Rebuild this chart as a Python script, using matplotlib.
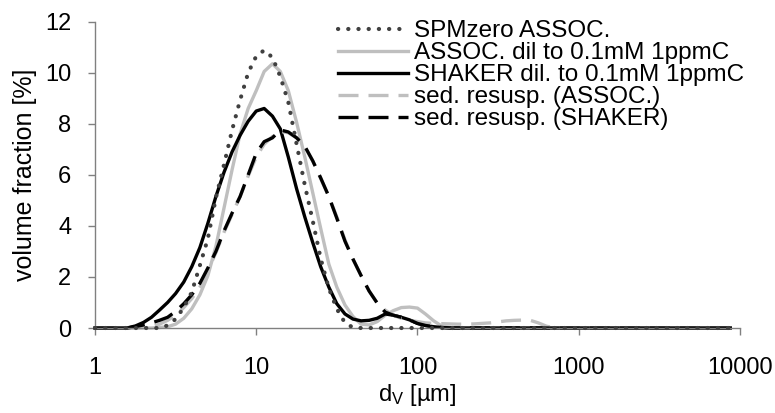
import matplotlib
matplotlib.use("Agg")
import matplotlib.pyplot as plt
from matplotlib import rcParams

rcParams["font.family"] = ["Liberation Sans", "DejaVu Sans"]
rcParams["mathtext.fontset"] = "custom"
rcParams["mathtext.rm"] = "Liberation Sans"
rcParams["mathtext.it"] = "Liberation Sans:italic"

# particle size d_V [µm] (log grid of the size classes)
size_um = [1.00, 1.12, 1.26, 1.41, 1.58, 1.78, 2.00, 2.24, 2.51, 2.82,
           3.16, 3.55, 3.98, 4.47, 5.01, 5.62, 6.31, 7.08, 7.94, 8.91,
           10.0, 11.2, 12.6, 14.1, 15.8, 17.8, 20.0, 22.4, 25.1, 28.2,
           31.6, 35.5, 39.8, 44.7, 50.1, 56.2, 63.1, 70.8, 79.4, 89.1,
           100, 112, 126, 141, 158, 178, 200, 224, 251, 282,
           316, 355, 398, 447, 501, 562, 631, 708, 794, 1000,
           2000, 3980, 8710]

# volume fraction [%]
spmzero_assoc = [0, 0, 0, 0, 0, 0, 0, 0, 0, 0.1,
                 0.35, 0.8, 1.4, 2.45, 3.5, 5.1, 6.4, 7.75, 8.93, 10.0,
                 10.65, 10.88, 10.6, 9.85, 8.85, 7.2, 5.6, 4.2, 2.72, 1.55,
                 0.75, 0.2, 0.02, 0, 0, 0, 0, 0, 0, 0,
                 0, 0, 0, 0, 0, 0, 0, 0, 0, 0,
                 0, 0, 0, 0, 0, 0, 0, 0, 0, 0,
                 0, 0, 0]

assoc_dil = [0, 0, 0, 0, 0, 0, 0, 0, 0.02, 0.05,
             0.15, 0.38, 0.75, 1.3, 2.05, 3.2, 4.7, 6.2, 7.6, 8.6,
             9.3, 10.05, 10.35, 10.05, 9.3, 8.05, 6.7, 5.3, 3.9, 2.5,
             1.6, 0.9, 0.45, 0.15, 0.12, 0.25, 0.5, 0.68, 0.8, 0.82,
             0.78, 0.55, 0.28, 0.08, 0.02, 0, 0, 0, 0, 0,
             0, 0, 0, 0, 0, 0, 0, 0, 0, 0,
             0, 0, 0]

shaker_dil = [0, 0, 0, 0, 0, 0.08, 0.22, 0.42, 0.7, 1.0,
              1.35, 1.8, 2.4, 3.15, 4.1, 5.15, 6.1, 6.9, 7.55, 8.1,
              8.5, 8.6, 8.3, 7.8, 6.7, 5.45, 4.35, 3.35, 2.4, 1.6,
              0.95, 0.55, 0.35, 0.28, 0.3, 0.38, 0.55, 0.5, 0.42, 0.32,
              0.18, 0.1, 0.05, 0.02, 0, 0, 0, 0, 0, 0,
              0, 0, 0, 0, 0, 0, 0, 0, 0, 0,
              0, 0, 0]

sed_assoc = [0, 0, 0, 0, 0, 0, 0.02, 0.06, 0.15, 0.3,
             0.5, 0.8, 1.15, 1.6, 2.25, 2.95, 3.75, 4.45, 5.15, 5.95,
             6.7, 7.2, 7.5, 7.7, 7.65, 7.45, 7.1, 6.55, 5.85, 5.15,
             4.35, 3.45, 2.7, 2.05, 1.45, 0.98, 0.7, 0.5, 0.38, 0.3,
             0.25, 0.2, 0.18, 0.17, 0.16, 0.15, 0.15, 0.16, 0.18, 0.2,
             0.24, 0.28, 0.3, 0.31, 0.3, 0.2, 0.07, 0.01, 0, 0,
             0, 0, 0]

sed_shaker = [0, 0, 0, 0, 0, 0.05, 0.12, 0.2, 0.3, 0.42,
              0.65, 0.95, 1.3, 1.75, 2.35, 3.0, 3.8, 4.5, 5.15, 6.0,
              6.85, 7.3, 7.45, 7.76, 7.68, 7.45, 7.12, 6.55, 5.88, 5.15,
              4.3, 3.4, 2.7, 2.05, 1.45, 0.98, 0.62, 0.5, 0.42, 0.32,
              0.18, 0.1, 0.05, 0.02, 0, 0, 0, 0, 0, 0,
              0, 0, 0, 0, 0, 0, 0, 0, 0, 0,
              0, 0, 0]

labels = ["SPMzero ASSOC.",
          "ASSOC. dil to 0.1mM 1ppmC",
          "SHAKER dil. to 0.1mM 1ppmC",
          "sed. resusp. (ASSOC.)",
          "sed. resusp. (SHAKER)"]

fig = plt.figure(figsize=(7.75, 4.13), dpi=100)
ax = fig.add_axes([0.1226, 0.2058, 0.8322, 0.7417])

ax.plot(size_um, spmzero_assoc, color="#404040", lw=3.0,
        linestyle=(0, (0.05, 2.4)), dash_capstyle="round", label=labels[0],
        clip_on=False, zorder=3)
ax.plot(size_um, assoc_dil, color="#BFBFBF", lw=2.4, label=labels[1],
        clip_on=False, zorder=2)
ax.plot(size_um, shaker_dil, color="black", lw=2.4, label=labels[2],
        clip_on=False, zorder=2.1)
ax.plot(size_um, sed_assoc, color="#BFBFBF", lw=2.4, linestyle=(0, (6, 3)),
        label=labels[3], clip_on=False, zorder=2.2)
ax.plot(size_um, sed_shaker, color="black", lw=2.4, linestyle=(0, (6, 3)),
        label=labels[4], clip_on=False, zorder=2.3)

ax.set_xscale("log")
ax.set_xlim(1, 10000)
ax.set_ylim(0, 12)
ax.set_xticks([1, 10, 100, 1000, 10000])
ax.set_xticklabels(["1", "10", "100", "1000", "10000"])
ax.xaxis.set_minor_locator(matplotlib.ticker.NullLocator())
ax.set_yticks([0, 2, 4, 6, 8, 10, 12])

for s in ["top", "right"]:
    ax.spines[s].set_visible(False)
for s in ["left", "bottom"]:
    ax.spines[s].set_color("#808080")
    ax.spines[s].set_linewidth(1.0)

ax.tick_params(axis="both", direction="out", length=5, width=1,
               color="#808080", labelsize=17, labelcolor="black")
ax.tick_params(axis="y", pad=12)
ax.tick_params(axis="x", pad=16)

ax.set_xlabel(r"d$_\mathrm{V}$ [µm]", fontsize=17, labelpad=2)
ax.set_ylabel("volume fraction [%]", fontsize=18, labelpad=6)

ax.legend(loc="upper left", bbox_to_anchor=(0.376, 1.005), frameon=False,
          fontsize=17.5, handlelength=2.9, handletextpad=0.25,
          labelspacing=0.0, borderpad=0, borderaxespad=0)

fig.savefig("out.png", dpi=100)
